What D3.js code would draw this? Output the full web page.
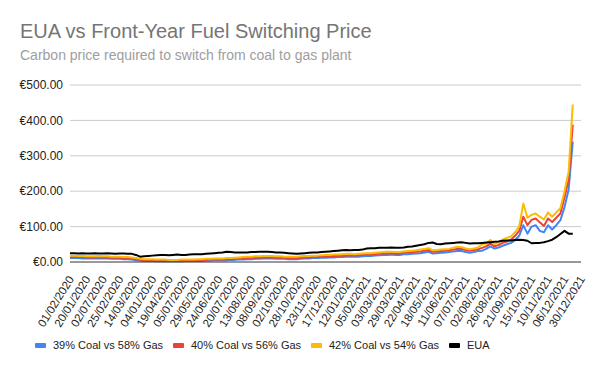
<!DOCTYPE html>
<html>
<head>
<meta charset="utf-8">
<script src="https://cdn.jsdelivr.net/npm/d3@7"></script>
<style>
  body { margin: 0; background: #fff; }
  text { font-family: "Liberation Sans", Arial, sans-serif; }
</style>
</head>
<body>
<div id="chart"></div>
<script>
// tick labels, one every 4 samples
var tickLabels = ["01/02/2020","20/01/2020","02/07/2020","25/02/2020","14/03/2020","04/01/2020",
  "19/04/2020","05/07/2020","29/05/2020","24/06/2020","20/07/2020","13/08/2020","08/09/2020",
  "02/10/2020","28/10/2020","23/11/2020","17/12/2020","12/01/2021","05/02/2021","03/03/2021",
  "29/03/2021","22/04/2021","18/05/2021","11/06/2021","07/07/2021","02/08/2021","26/08/2021",
  "21/09/2021","15/10/2021","10/11/2021","06/12/2021","30/12/2021"]
var samplesPerTick = 4

var seriesNames = ["39% Coal vs 58% Gas", "40% Coal vs 56% Gas", "42% Coal vs 54% Gas", "EUA"]
var seriesColors = ["#4285f4", "#ea4335", "#fbbc04", "#000000"]

var coal39 = [11,11,11,10,10,10,10,10,10,10,9,9,9,8,8,7,
  5,4,3,3,3,
  2,2,2,2,2,2,2,3,3,3,3,3,4,4,5,
  5,5,5,6,6,7,7,8,8,9,9,10,10,10,9,
  9,9,8,8,8,9,10,10,11,11,
  12,12,13,13,14,14,15,15,15,15,
  16,17,17,18,19,20,20,21,20,20,
  22,22,23,24,25,27,29,24,25,26,
  27,28,30,31,31,28,26,28,31,32,
  37,44,38,41,46,50,54,62,74,104,
  80,100,104,88,84,104,92,104,118,155,205,340]

var coal40 = [15,15,14,14,13,13,13,14,13,13,12,12,12,11,11,10,
  8,6,5,5,5,
  4,4,4,4,4,4,4,5,5,5,5,6,6,7,7,
  7,7,8,8,9,10,10,11,12,12,13,13,13,13,12,
  12,12,11,11,11,12,13,13,14,14,
  15,16,16,17,17,18,18,19,18,19,
  20,21,21,22,23,24,24,25,24,24,
  26,27,28,29,30,32,34,29,30,31,
  32,33,35,37,37,34,32,34,36,40,
  44,52,44,48,54,58,63,74,88,128,
  104,119,123,112,102,123,113,125,137,182,233,388]

var coal42 = [18,18,17,17,16,16,16,17,16,16,15,15,15,14,14,13,
  11,9,8,8,8,
  7,7,7,6,6,6,7,7,7,7,8,8,9,9,10,
  10,10,11,11,12,13,14,15,15,16,16,17,17,17,16,
  16,15,15,15,15,16,17,17,18,18,
  19,20,20,21,21,22,23,23,22,23,
  24,25,25,26,27,28,29,29,28,28,
  30,31,32,33,35,37,39,33,34,35,
  36,37,40,43,42,38,36,38,41,50,
  52,62,50,56,63,68,72,84,100,165,
  125,133,137,128,120,140,128,140,152,200,255,445]

var eua = [25,25,24,25,24,24,25,24,24,25,24,23,24,24,23,23,
  20,15,16,17,18,
  19,20,20,19,20,21,20,20,21,22,22,22,23,24,25,
  26,27,29,28,27,27,27,27,28,28,29,29,29,28,27,
  27,26,25,24,23,24,25,26,27,27,
  28,29,30,31,32,33,34,33,34,34,
  35,38,39,39,40,40,40,41,40,40,
  41,43,44,46,48,50,54,55,51,50,
  52,53,54,55,56,54,52,53,53,54,
  55,56,57,58,60,61,61,62,63,62,
  60,53,54,54,56,59,63,70,79,88,80,80]

var yTicks = [0, 100, 200, 300, 400, 500]

var width = 600, height = 371
var margin = {top: 85, right: 19, bottom: 109, left: 70}

var svg = d3.select("#chart")
  .append("svg")
    .attr("width", width)
    .attr("height", height)

svg.append("text")
  .attr("x", 20)
  .attr("y", 38)
  .style("font-size", "20px")
  .style("fill", "#757575")
  .text("EUA vs Front-Year Fuel Switching Price")

svg.append("text")
  .attr("x", 20)
  .attr("y", 60)
  .style("font-size", "14px")
  .style("fill", "#9e9e9e")
  .text("Carbon price required to switch from coal to gas plant")

var nSteps = (tickLabels.length - 1) * samplesPerTick
var x = d3.scaleLinear()
  .domain([0, nSteps])
  .range([margin.left, width - margin.right])

var y = d3.scaleLinear()
  .domain([0, 500])
  .range([height - margin.bottom, margin.top])

// gridlines
svg.append("g")
  .selectAll("line")
  .data(yTicks.filter(function (d) { return d > 0 }))
  .enter()
  .append("line")
    .attr("x1", x(0))
    .attr("x2", x(nSteps))
    .attr("y1", function (d) { return y(d) })
    .attr("y2", function (d) { return y(d) })
    .style("stroke", "#cccccc")
    .style("stroke-width", 1)

svg.append("g")
  .selectAll("text")
  .data(yTicks)
  .enter()
  .append("text")
    .attr("x", 63)
    .attr("y", function (d) { return y(d) })
    .attr("dy", "0.35em")
    .attr("text-anchor", "end")
    .style("font-size", "12px")
    .style("fill", "#222")
    .text(function (d) { return "€" + d3.format(".2f")(d) })

// x labels
svg.append("g")
  .selectAll("text")
  .data(tickLabels)
  .enter()
  .append("text")
    .attr("text-anchor", "end")
    .attr("transform", function (d, i) {
      return "translate(" + (x(i * samplesPerTick) + 1) + "," + 277 + ") rotate(-58)"
    })
    .attr("dy", "0.35em")
    .style("font-size", "11.5px")
    .style("fill", "#222")
    .text(function (d) { return d })

var line = d3.line()
  .x(function (d, i) { return x(i) })
  .y(function (d) { return y(d) })

var allSeries = [coal39, coal40, coal42, eua]
svg.append("g")
  .selectAll("path")
  .data(allSeries)
  .enter()
  .append("path")
    .attr("d", function (d) { return line(d) })
    .style("fill", "none")
    .style("stroke", function (d, i) { return seriesColors[i] })
    .style("stroke-width", 2)
    .style("stroke-linejoin", "round")

// baseline
svg.append("line")
  .attr("x1", x(0))
  .attr("x2", x(nSteps))
  .attr("y1", y(0))
  .attr("y2", y(0))
  .style("stroke", "#333")
  .style("stroke-width", 1)

// legend
var legendX = [35, 173, 311, 449]
var legend = svg.append("g")
  .selectAll("g")
  .data(seriesNames)
  .enter()
  .append("g")
    .attr("transform", function (d, i) { return "translate(" + legendX[i] + ",345)" })

legend.append("rect")
  .attr("x", 0)
  .attr("y", -2)
  .attr("width", 11)
  .attr("height", 5)
  .attr("rx", 1)
  .style("fill", function (d, i) { return seriesColors[i] })

legend.append("text")
  .attr("x", 18)
  .attr("y", 0)
  .attr("dy", "0.35em")
  .style("font-size", "11px")
  .style("fill", "#222")
  .text(function (d) { return d })
</script>
</body>
</html>
